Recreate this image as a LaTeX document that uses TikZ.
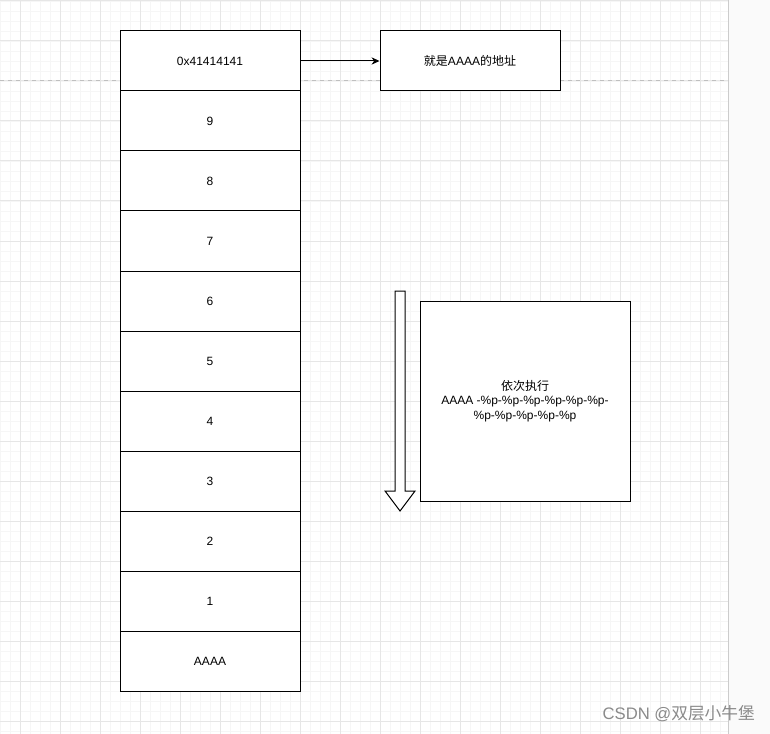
\documentclass[tikz,border=0pt]{standalone}
\usepackage{fontspec}
\setmainfont{Liberation Sans}
\newfontfamily\cjk{Noto Sans CJK SC}
\usepackage{tikz}
\usetikzlibrary{arrows,arrows.meta,positioning}
\definecolor{gridminor}{HTML}{F6F6F6}
\definecolor{gridmajor}{HTML}{E6E6E6}
\definecolor{pageside}{HTML}{FAFAFA}
\definecolor{mark}{HTML}{8A8A8A}
\tikzstyle{cell} = [rectangle, minimum width=135pt, minimum height=45pt, text centered, draw=black, fill=white, line width=0.75pt, font=\fontsize{9}{11}\selectfont]
\tikzstyle{note} = [rectangle, minimum width=135pt, minimum height=45pt, text centered, draw=black, fill=white, line width=0.75pt, font=\fontsize{9}{11}\selectfont]
\tikzstyle{arrow} = [-{Stealth[length=6pt,width=5.5pt]}, line width=0.75pt]

\begin{document}
\begin{tikzpicture}[x=0.75pt, y=-0.75pt, node distance=45pt]
	\useasboundingbox (0,0) rectangle (770,734);
	% background grid
	\fill[white] (0,0) rectangle (728,734);
	\fill[pageside] (728,0) rectangle (770,734);
	\foreach \x in {0,10,...,720} \draw[gridminor, line width=0.5pt] (\x,0) -- (\x,734);
	\foreach \y in {1,11,...,731} \draw[gridminor, line width=0.5pt] (0,\y) -- (728,\y);
	\foreach \x in {20,60,...,700} \draw[gridmajor, line width=0.75pt] (\x,0) -- (\x,734);
	\foreach \y in {1,41,...,721} \draw[gridmajor, line width=0.75pt] (0,\y) -- (728,\y);
	\draw[gray!40, line width=0.75pt] (728,0) -- (728,734);
	\draw[gray!50, line width=0.75pt, dash pattern=on 3pt off 3pt] (0,81) -- (728,81);
	% stack
	\node (top) [cell] at (210,61) {0x41414141};
	\node (c9) [cell, below of=top] {9};
	\node (c8) [cell, below of=c9] {8};
	\node (c7) [cell, below of=c8] {7};
	\node (c6) [cell, below of=c7] {6};
	\node (c5) [cell, below of=c6] {5};
	\node (c4) [cell, below of=c5] {4};
	\node (c3) [cell, below of=c4] {3};
	\node (c2) [cell, below of=c3] {2};
	\node (c1) [cell, below of=c2] {1};
	\node (AAAA) [cell, below of=c1] {AAAA};
	% address note
	\node (addr) [note, right=59.25pt of top] {{\cjk 就是}AAAA{\cjk 的地址}};
	\draw [arrow](top) -- (addr);
	% order of execution
	\node (exec) [note, minimum width=157.5pt, minimum height=150pt, align=center] at (525,401) {{\cjk 依次执行}\\AAAA -\%p-\%p-\%p-\%p-\%p-\%p-\\\%p-\%p-\%p-\%p-\%p};
	\draw[fill=white, line width=0.75pt] (395,291) -- (405,291) -- (405,491) -- (415,491) -- (400,511) -- (385,491) -- (395,491) -- cycle;
	% watermark
	\node (wm) [anchor=east, text=mark, font=\fontsize{12.5}{14}\selectfont, inner sep=0pt] at (755,714) {CSDN @{\cjk 双层小牛堡}};
\end{tikzpicture}
\end{document}
